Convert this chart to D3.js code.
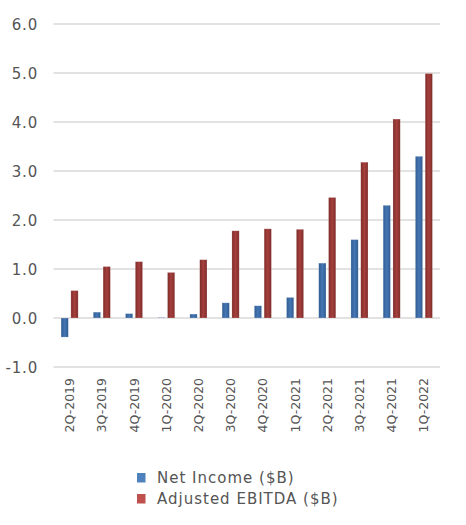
<!DOCTYPE html>
<html>
<head>
<meta charset="utf-8">
<script src="https://cdn.jsdelivr.net/npm/d3@7"></script>
<style>
  html, body { margin: 0; padding: 0; background: #ffffff; }
  svg { display: block; }
</style>
</head>
<body>
<svg id="chart" width="466" height="525"></svg>
<script>
const categories = ["2Q-2019","3Q-2019","4Q-2019","1Q-2020","2Q-2020","3Q-2020","4Q-2020","1Q-2021","2Q-2021","3Q-2021","4Q-2021","1Q-2022"];
const netIncome = [-0.39, 0.12, 0.09, 0.01, 0.08, 0.31, 0.25, 0.42, 1.12, 1.60, 2.30, 3.30];
const adjEbitda = [0.56, 1.05, 1.15, 0.93, 1.19, 1.78, 1.82, 1.81, 2.46, 3.18, 4.06, 4.99];
const seriesNames = ["Net Income ($B)", "Adjusted EBITDA ($B)"];
const yTicks = [-1, 0, 1, 2, 3, 4, 5, 6];

const svg = d3.select("#chart");
const mLeft = 53.5, mRight = 440, mTop = 24, mBottom = 367;

const x0 = d3.scaleBand().domain(categories).range([mLeft, mRight]).paddingInner(0).paddingOuter(0);
const x1 = d3.scaleBand().domain(seriesNames).range([0, x0.bandwidth()]).paddingInner(0.26).paddingOuter(0.77);
const y = d3.scaleLinear().domain([-1, 6]).range([mBottom, mTop]);

// gradients
const defs = svg.append("defs");
function grad(id, edge, mid) {
  const g = defs.append("linearGradient").attr("id", id).attr("x1", "0%").attr("x2", "100%").attr("y1", "0%").attr("y2", "0%");
  g.append("stop").attr("offset", "0%").attr("stop-color", edge);
  g.append("stop").attr("offset", "50%").attr("stop-color", mid);
  g.append("stop").attr("offset", "100%").attr("stop-color", edge);
}
grad("gBlue", "#2f5b90", "#4677b4");
grad("gRed", "#7e2b29", "#a5403d");
const fills = ["url(#gBlue)", "url(#gRed)"];
const legendColors = ["#4f81bd", "#c0504d"];

// grid lines
svg.append("g").selectAll("line").data(yTicks).join("line")
  .attr("x1", mLeft).attr("x2", mRight)
  .attr("y1", d => y(d)).attr("y2", d => y(d))
  .attr("stroke", "#d9d9d9").attr("stroke-width", 1.5);

// y tick labels
const fmt = d3.format(".1f");
const yAxis = d3.axisLeft(y).tickValues(yTicks).tickFormat(d => fmt(d).replace("\u2212", "-")).tickSize(0).tickPadding(0);
const yg = svg.append("g").attr("transform", `translate(38,0)`).call(yAxis);
yg.select(".domain").remove();
yg.selectAll("text").attr("font-family", "DejaVu Sans").attr("font-size", 15)
  .attr("fill", "#555555").attr("letter-spacing", 0.8).attr("dy", "0.36em");

// bars
const data = categories.map((c, i) => ({ c, vals: [netIncome[i], adjEbitda[i]] }));
const groups = svg.append("g").selectAll("g").data(data).join("g")
  .attr("transform", d => `translate(${x0(d.c)},0)`);
groups.selectAll("rect").data(d => d.vals.map((v, k) => ({ v, k }))).join("rect")
  .attr("x", d => x1(seriesNames[d.k]))
  .attr("width", x1.bandwidth())
  .attr("y", d => y(Math.max(0, d.v)))
  .attr("height", d => Math.abs(y(d.v) - y(0)))
  .attr("fill", d => fills[d.k])
  .attr("stroke", "rgba(255,255,255,0.35)").attr("stroke-width", 0.6);

// x labels
const xAxis = d3.axisBottom(x0).tickSize(0).tickPadding(0);
const xg = svg.append("g").attr("transform", `translate(0,378)`).call(xAxis);
xg.select(".domain").remove();
xg.selectAll("text")
  .attr("font-family", "DejaVu Sans").attr("font-size", 12.5).attr("fill", "#555555")
  .attr("transform", "rotate(-90)")
  .attr("text-anchor", "end")
  .attr("x", 0).attr("y", 0).attr("dy", "0.36em");

// legend
const lg = svg.append("g").attr("transform", "translate(137,473)");
const items = lg.selectAll("g").data(seriesNames).join("g")
  .attr("transform", (d, i) => `translate(0,${i * 21})`);
items.append("rect").attr("width", 8.5).attr("height", 9.5).attr("fill", (d, i) => legendColors[i]);
items.append("text").attr("x", 20).attr("y", 5).attr("dy", "0.36em")
  .attr("font-family", "DejaVu Sans").attr("font-size", 15).attr("letter-spacing", 1)
  .attr("fill", "#555555").text(d => d);
</script>
</body>
</html>
